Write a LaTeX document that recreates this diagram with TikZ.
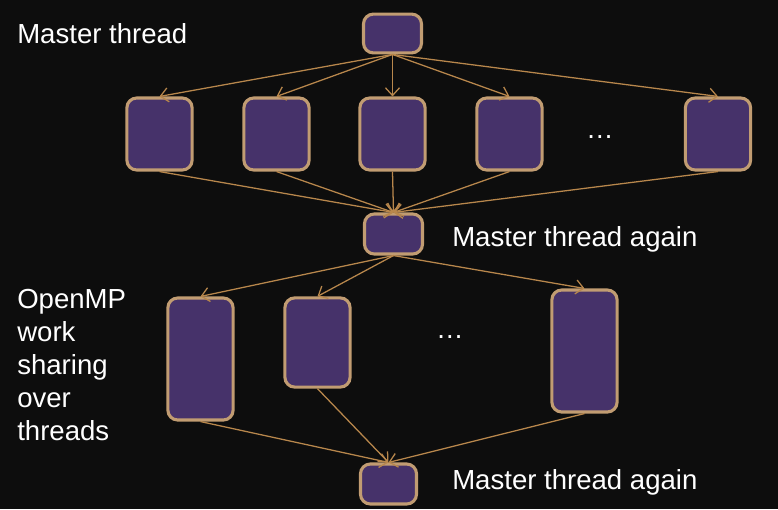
\documentclass[tikz,border=0pt]{standalone}
\usepackage{fontspec}
\setmainfont{Liberation Sans}
\usetikzlibrary{arrows.meta}
\definecolor{bgdark}{HTML}{0D0D0D}
\definecolor{taskfill}{HTML}{46326A}
\definecolor{taskline}{HTML}{C19C72}
\definecolor{forkline}{HTML}{B8874C}

\begin{document}
\begin{tikzpicture}[x=0.025cm, y=-0.025cm,
		task/.style = {draw = taskline, fill = taskfill, line width = 2.2pt, rounded corners = 7pt, inner sep = 0pt},
		fork/.style = {draw = forkline, line width = 0.9pt, -{Straight Barb[length=5.5pt, width=10pt]}},
		label/.style = {text = white, font = \fontsize{19.6}{23.5}\selectfont, inner sep = 0pt}]
		\fill [bgdark] (0, 0) rectangle (778, 509);
		\useasboundingbox (0, 0) rectangle (778, 509);

		% master thread
		\node (m0) [task, minimum width = 1.45cm, minimum height = 0.97cm] at (392.5, 33.5) {};
		\node [label, anchor = west] at (17, 34) {Master thread};

		% parallel region
		\node (t1) [task, minimum width = 1.63cm, minimum height = 1.8cm] at (159.5, 134) {};
		\node (t2) [task, minimum width = 1.63cm, minimum height = 1.8cm] at (276.5, 134) {};
		\node (t3) [task, minimum width = 1.63cm, minimum height = 1.8cm] at (392.5, 134) {};
		\node (t4) [task, minimum width = 1.63cm, minimum height = 1.8cm] at (509.5, 134) {};
		\node (t5) [task, minimum width = 1.63cm, minimum height = 1.8cm] at (718, 134) {};
		\node (dots1) [label] at (600, 137) {…};

		\foreach \t in {t1, t2, t3, t4, t5}
			\draw [fork] (m0.south) -- (\t.north);

		% join
		\node (m1) [task, minimum width = 1.45cm, minimum height = 1cm] at (393.5, 234) {};
		\node [label, anchor = west] at (452, 239) {Master thread again};
		\foreach \t in {t1, t2, t3, t4, t5}
			\draw [fork] (\t.south) -- (m1.north);

		% work sharing
		\node (w1) [task, minimum width = 1.63cm, minimum height = 3.05cm] at (200.5, 359) {};
		\node (w2) [task, minimum width = 1.63cm, minimum height = 2.23cm] at (317.5, 342.5) {};
		\node (w3) [task, minimum width = 1.63cm, minimum height = 3.05cm] at (584.5, 351) {};
		\node (dots2) [label] at (450, 337) {…};
		\node [label, anchor = west, align = left] at (17, 365) {OpenMP\\work\\sharing\\over\\threads};

		\foreach \w in {w1, w2, w3}
			\draw [fork] (m1.south) -- (\w.north);

		% join again
		\node (m2) [task, minimum width = 1.4cm, minimum height = 1cm] at (388.5, 484) {};
		\node [label, anchor = west] at (452, 482) {Master thread again};
		\foreach \w in {w1, w2, w3}
			\draw [fork] (\w.south) -- (m2.north);
	\end{tikzpicture}
\end{document}
